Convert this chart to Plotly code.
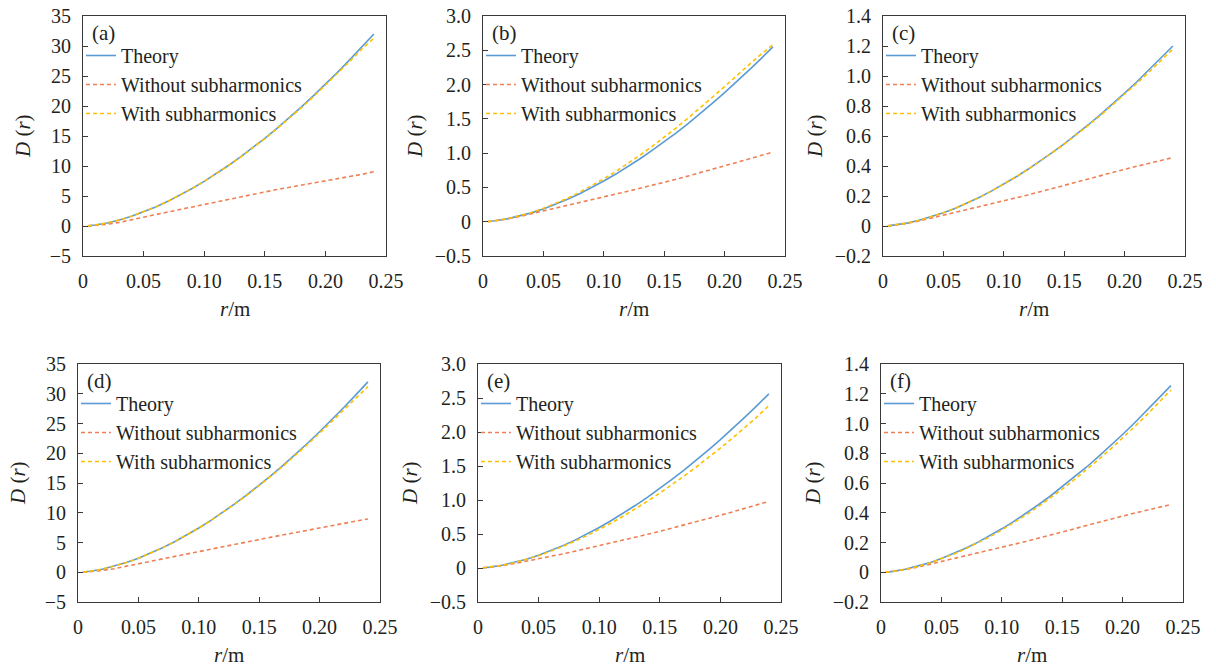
import plotly.graph_objects as go

W, H = 1208, 663   # page body has an 8px margin; keep the whole page at 1216x671
OFF = 8

r = [0.004, 0.01, 0.02, 0.03, 0.04, 0.05, 0.06, 0.07, 0.08, 0.09, 0.10, 0.11, 0.12,
     0.13, 0.14, 0.15, 0.16, 0.17, 0.18, 0.19, 0.20, 0.21, 0.22, 0.23, 0.24]

a_theory = [0.03, 0.16, 0.51, 1.00, 1.62, 2.34, 3.17, 4.11, 5.13, 6.24, 7.44, 8.72, 10.08,
            11.52, 13.03, 14.62, 16.28, 18.01, 19.81, 21.68, 23.62, 25.61, 27.68, 29.81, 32.00]
a_without = [0.0, 0.08, 0.30, 0.60, 1.00, 1.45, 1.90, 2.33, 2.76, 3.20, 3.62, 4.04, 4.45,
             4.86, 5.27, 5.67, 6.07, 6.45, 6.83, 7.20, 7.56, 7.90, 8.25, 8.60, 9.05]
a_with = [0.03, 0.16, 0.51, 1.00, 1.62, 2.34, 3.17, 4.11, 5.13, 6.24, 7.43, 8.70, 10.05,
          11.48, 12.98, 14.56, 16.20, 17.91, 19.69, 21.53, 23.44, 25.40, 27.42, 29.49, 31.30]
b_theory = [0.003, 0.013, 0.041, 0.080, 0.129, 0.187, 0.253, 0.327, 0.409, 0.497, 0.593, 0.695, 0.803,
            0.918, 1.039, 1.165, 1.297, 1.435, 1.578, 1.728, 1.882, 2.041, 2.206, 2.375, 2.550]
b_without = [0.0, 0.012, 0.040, 0.075, 0.115, 0.160, 0.200, 0.240, 0.280, 0.320, 0.360, 0.402, 0.445,
             0.488, 0.530, 0.575, 0.620, 0.668, 0.715, 0.765, 0.815, 0.865, 0.915, 0.965, 1.015]
b_with = [0.003, 0.013, 0.042, 0.083, 0.134, 0.195, 0.265, 0.343, 0.430, 0.523, 0.625, 0.733, 0.848,
          0.970, 1.098, 1.232, 1.370, 1.514, 1.662, 1.815, 1.970, 2.130, 2.290, 2.440, 2.580]
c_theory = [0.001, 0.006, 0.019, 0.038, 0.061, 0.088, 0.119, 0.154, 0.192, 0.234, 0.279, 0.327, 0.378,
            0.432, 0.489, 0.548, 0.610, 0.675, 0.743, 0.813, 0.886, 0.960, 1.038, 1.118, 1.200]
c_without = [0.0, 0.005, 0.018, 0.034, 0.053, 0.073, 0.090, 0.108, 0.126, 0.145, 0.165, 0.186, 0.207,
             0.228, 0.250, 0.272, 0.293, 0.315, 0.336, 0.357, 0.378, 0.398, 0.418, 0.437, 0.456]
c_with = [0.001, 0.006, 0.019, 0.038, 0.061, 0.088, 0.119, 0.154, 0.192, 0.234, 0.279, 0.327, 0.378,
          0.431, 0.487, 0.546, 0.607, 0.671, 0.737, 0.806, 0.877, 0.950, 1.025, 1.102, 1.180]
d_theory = [0.03, 0.16, 0.51, 1.00, 1.62, 2.34, 3.17, 4.11, 5.13, 6.24, 7.44, 8.72, 10.08,
            11.52, 13.03, 14.62, 16.28, 18.01, 19.81, 21.68, 23.62, 25.61, 27.68, 29.81, 32.00]
d_without = [0.0, 0.08, 0.30, 0.60, 0.98, 1.40, 1.83, 2.25, 2.67, 3.08, 3.48, 3.88, 4.28,
             4.68, 5.08, 5.50, 5.90, 6.30, 6.70, 7.10, 7.50, 7.87, 8.23, 8.59, 8.95]
d_with = [0.03, 0.16, 0.51, 1.00, 1.62, 2.34, 3.17, 4.11, 5.13, 6.24, 7.43, 8.70, 10.05,
          11.48, 12.98, 14.55, 16.18, 17.88, 19.65, 21.48, 23.37, 25.32, 27.32, 29.27, 31.20]
e_theory = [0.003, 0.013, 0.041, 0.080, 0.129, 0.187, 0.254, 0.329, 0.410, 0.499, 0.595, 0.698, 0.806,
            0.922, 1.043, 1.170, 1.302, 1.441, 1.585, 1.734, 1.889, 2.049, 2.214, 2.385, 2.560]
e_without = [0.0, 0.010, 0.035, 0.065, 0.098, 0.133, 0.170, 0.208, 0.247, 0.287, 0.327, 0.368, 0.410,
             0.452, 0.495, 0.540, 0.585, 0.632, 0.680, 0.727, 0.775, 0.825, 0.877, 0.928, 0.980]
e_with = [0.003, 0.013, 0.040, 0.078, 0.125, 0.181, 0.245, 0.316, 0.393, 0.477, 0.567, 0.663, 0.764,
          0.871, 0.984, 1.102, 1.224, 1.352, 1.485, 1.622, 1.764, 1.911, 2.062, 2.218, 2.390]
f_theory = [0.001, 0.006, 0.020, 0.039, 0.063, 0.092, 0.124, 0.161, 0.201, 0.245, 0.292, 0.342, 0.395,
            0.452, 0.511, 0.574, 0.638, 0.706, 0.777, 0.850, 0.926, 1.005, 1.086, 1.169, 1.255]
f_without = [0.0, 0.005, 0.018, 0.034, 0.053, 0.073, 0.090, 0.108, 0.126, 0.145, 0.165, 0.186, 0.207,
             0.228, 0.250, 0.272, 0.293, 0.315, 0.336, 0.357, 0.378, 0.398, 0.418, 0.437, 0.455]
f_with = [0.001, 0.006, 0.020, 0.038, 0.062, 0.090, 0.121, 0.157, 0.196, 0.238, 0.284, 0.333, 0.385,
          0.440, 0.498, 0.559, 0.622, 0.688, 0.757, 0.828, 0.902, 0.979, 1.058, 1.139, 1.225]

series_names = ["Theory", "Without subharmonics", "With subharmonics"]
panel_labels = ["(a)", "(b)", "(c)", "(d)", "(e)", "(f)"]
panel_data = [
    (a_theory, a_without, a_with),
    (b_theory, b_without, b_with),
    (c_theory, c_without, c_with),
    (d_theory, d_without, d_with),
    (e_theory, e_without, e_with),
    (f_theory, f_without, f_with),
]

x_tickvals = [0, 0.05, 0.10, 0.15, 0.20, 0.25]
x_ticktext = ["0", "0.05", "0.10", "0.15", "0.20", "0.25"]

y_ticks_big = [-5, 0, 5, 10, 15, 20, 25, 30, 35]
y_text_big = ["\u22125", "0", "5", "10", "15", "20", "25", "30", "35"]
y_ticks_mid = [-0.5, 0, 0.5, 1.0, 1.5, 2.0, 2.5, 3.0]
y_text_mid = ["\u22120.5", "0", "0.5", "1.0", "1.5", "2.0", "2.5", "3.0"]
y_ticks_small = [-0.2, 0, 0.2, 0.4, 0.6, 0.8, 1.0, 1.2, 1.4]
y_text_small = ["\u22120.2", "0", "0.2", "0.4", "0.6", "0.8", "1.0", "1.2", "1.4"]
y_axes_spec = [
    ([-5, 35], y_ticks_big, y_text_big),
    ([-0.5, 3.0], y_ticks_mid, y_text_mid),
    ([-0.2, 1.4], y_ticks_small, y_text_small),
]

colors = ["#5B9BD5", "#EE8055", "#FFC000"]
dashes = ["solid", "4px,3px", "4px,3px"]
widths = [1.6, 1.6, 1.6]

# pixel boxes (screen coords) of each plot area: left, right, top, bottom
boxes = [
    (83, 386, 16, 256), (483, 785, 16, 256), (883, 1185, 16, 256),
    (78, 380, 364, 602), (478, 781, 364, 602), (881, 1183, 364, 602),
]

FONT = "Liberation Serif"
AXC = "#3a3a3a"
TXT = "#231f20"

def px_x(p):
    return (p - OFF) / W

def px_y(p):
    return 1 - (p - OFF) / H

fig = go.Figure()
layout = dict(
    template="none",
    width=W, height=H,
    margin=dict(l=0, r=0, t=0, b=0, pad=0, autoexpand=False),
    paper_bgcolor="white", plot_bgcolor="white",
    font=dict(family=FONT, size=20, color=TXT),
    annotations=[],
    showlegend=True,
)

for i, (data, box) in enumerate(zip(panel_data, boxes)):
    k = i + 1
    xa = "x" if k == 1 else f"x{k}"
    ya = "y" if k == 1 else f"y{k}"
    lg = "legend" if k == 1 else f"legend{k}"
    l, rr, t, b = box
    for j in range(3):
        fig.add_trace(go.Scatter(
            x=r, y=data[j], mode="lines", name=series_names[j],
            line=dict(color=colors[j], width=widths[j], dash=dashes[j]),
            xaxis=xa, yaxis=ya, legend=lg, showlegend=True,
        ))
    yr, yt, ytt = y_axes_spec[i % 3]
    common = dict(showline=True, mirror=True, linecolor=AXC, linewidth=1,
                  ticks="inside", ticklen=5, tickcolor=AXC, tickwidth=1,
                  showgrid=False, zeroline=False, automargin=False,
                  ticklabeloverflow="allow",
                  tickfont=dict(family=FONT, size=20, color=TXT))
    layout["xaxis" if k == 1 else f"xaxis{k}"] = dict(
        domain=[px_x(l), px_x(rr)], range=[0, 0.25], anchor=ya,
        tickvals=x_tickvals, ticktext=x_ticktext, ticklabelstandoff=7, **common)
    layout["yaxis" if k == 1 else f"yaxis{k}"] = dict(
        domain=[px_y(b), px_y(t)], range=yr, anchor=xa,
        tickvals=yt, ticktext=ytt, ticklabelstandoff=7, **common)
    layout[lg] = dict(
        x=px_x(l - 2), y=px_y(t + 20), xanchor="left", yanchor="top",
        bgcolor="rgba(0,0,0,0)", borderwidth=0, tracegroupgap=0,
        itemwidth=30, font=dict(family=FONT, size=20, color=TXT),
    )
    layout["annotations"].append(dict(
        x=px_x(l + 7), y=px_y(t + 17), xref="paper", yref="paper",
        text=panel_labels[i], showarrow=False, xanchor="left", yanchor="middle",
        font=dict(family=FONT, size=21, color=TXT)))
    off = 60 if i % 3 == 0 else 68
    layout["annotations"].append(dict(
        x=px_x(l - off), y=px_y((t + b) / 2), xref="paper", yref="paper",
        text="<i>D</i> (<i>r</i>)", showarrow=False, textangle=-90,
        xanchor="center", yanchor="middle",
        font=dict(family=FONT, size=21, color=TXT)))
    layout["annotations"].append(dict(
        x=px_x((l + rr) / 2), y=px_y(b + 53), xref="paper", yref="paper",
        text="<i>r</i>/m", showarrow=False, xanchor="center", yanchor="middle",
        font=dict(family=FONT, size=21, color=TXT)))

fig.update_layout(**layout)
fig.write_html("out.html")
